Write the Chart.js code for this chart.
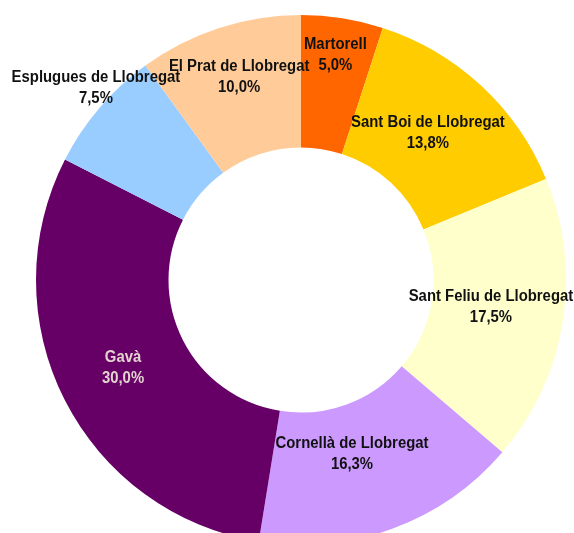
<!DOCTYPE html>
<html lang="ca">
  <head>
    <meta charset="UTF-8" />
    <title>Doughnut</title>
    <style>
      html, body { margin: 0; padding: 0; background: #fff; overflow: hidden; }
      #wrap { width: 574px; height: 533px; overflow: hidden; }
    </style>
  </head>
  <body>
    <div id="wrap">
      <canvas id="myChart" width="574" height="560"></canvas>
    </div>
    <script src="https://cdn.jsdelivr.net/npm/chart.js"></script>
    <script>
        // data
        const labels = ["Martorell", "Sant Boi de Llobregat", "Sant Feliu de Llobregat", "Cornellà de Llobregat", "Gavà", "Esplugues de Llobregat", "El Prat de Llobregat"];
        const values = [5.0, 13.8, 17.5, 16.3, 30.0, 7.5, 10.0];
        const colors = ["#FF6600", "#FFCC00", "#FFFFCC", "#CC99FF", "#660066", "#99CCFF", "#FFCC99"];
        const labelColors = ["#111", "#111", "#111", "#111", "#E3D3CF", "#111", "#111"];

        // where each label sits: fraction of outer radius + angle nudge (deg)
        const labelPlace = [
            {r: 0.859, da: -0.3},
            {r: 0.733, da: -2},
            {r: 0.724, da: -1},
            {r: 0.684, da: 3.8},
            {r: 0.749, da: 0.6},
            {r: 1.059, da: 2.5},
            {r: 0.799, da: 1},
        ];

        const sliceLabels = {
            id: 'sliceLabels',
            afterDatasetsDraw(chart) {
                const ctx = chart.ctx;
                const meta = chart.getDatasetMeta(0);
                ctx.save();
                ctx.font = 'bold 16px "Liberation Sans Narrow", Arial, "Liberation Sans", sans-serif';
                ctx.textAlign = 'center';
                ctx.textBaseline = 'middle';
                meta.data.forEach((arc, i) => {
                    const p = arc.getProps(['x', 'y', 'startAngle', 'endAngle', 'outerRadius']);
                    const mid = (p.startAngle + p.endAngle) / 2 + labelPlace[i].da * Math.PI / 180;
                    const r = p.outerRadius * labelPlace[i].r;
                    const x = p.x + Math.cos(mid) * r;
                    const y = p.y + Math.sin(mid) * r;
                    ctx.fillStyle = labelColors[i];
                    ctx.save();
                    ctx.translate(x, y);
                    ctx.scale(0.93, 1);   // narrow look
                    ctx.fillText(labels[i], 0, -10.5);
                    ctx.fillText(values[i].toFixed(1).replace('.', ',') + '%', 0, 10.5);
                    ctx.restore();
                });
                ctx.restore();
            }
        };

        const config = {
            type: 'doughnut',
            data: {
                labels: labels,
                datasets: [{
                    data: values,
                    backgroundColor: colors,
                    borderWidth: 0,
                }]
            },
            plugins: [sliceLabels],
            options: {
                responsive: false,
                animation: false,
                cutout: '50%',
                layout: {
                    padding: {left: 36, right: 8, top: 15, bottom: 15}
                },
                plugins: {
                    legend: { display: false },
                    tooltip: { enabled: false }
                }
            }
        };

        const myChart = new Chart(document.getElementById('myChart'), config);
    </script>
  </body>
</html>
